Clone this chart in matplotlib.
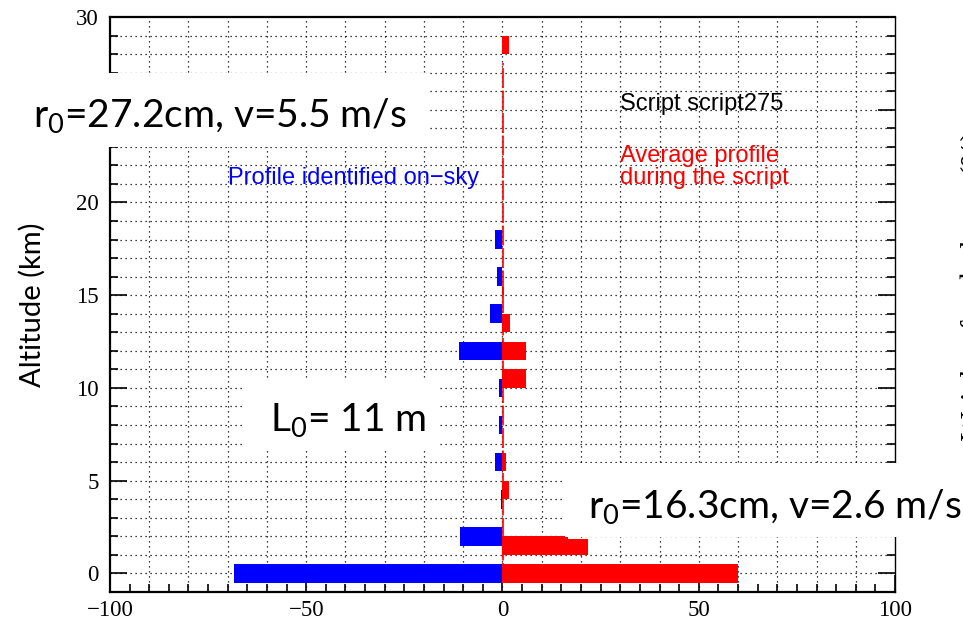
import matplotlib
matplotlib.use("Agg")
import matplotlib.pyplot as plt
from matplotlib.patches import Rectangle
from matplotlib.ticker import MultipleLocator

plt.rcParams['mathtext.fontset'] = 'custom'
plt.rcParams['mathtext.rm'] = 'Lato'

# profile identified on-sky (negative side), one bin per 2 km
blue_alt = [0, 2, 4, 6, 8, 10, 12, 14, 16, 18]
blue_val = [-68.5, -10.7, -0.4, -2.0, -0.8, -1.0, -11.0, -3.3, -1.5, -1.8]

# average profile during the script (positive side), layer extents in km
red_lo = [-0.5, 1.0, 1.0, 4.0, 5.5, 10.0, 11.5, 13.0, 15.0, 28.0]
red_hi = [0.5, 2.0, 1.83, 5.0, 6.5, 11.0, 12.5, 14.0, 15.45, 29.0]
red_val = [60.0, 16.6, 21.7, 1.6, 1.0, 6.0, 6.0, 2.0, 0.4, 1.6]

# weak residual layers of the average profile
trace_alt = [-0.5, 27.5]
trace_val = [0.15, 0.15]

xticks = [-100, -50, 0, 50, 100]
yticks = [0, 5, 10, 15, 20, 25, 30]

fig = plt.figure(figsize=(9.63, 6.24), dpi=100)
ax = fig.add_axes([0.1142, 0.0513, 0.8152, 0.9215])

ax.barh(blue_alt, blue_val, height=1.0, color='#0000ff', zorder=3)
ax.barh(red_lo, red_val, height=[h - l for l, h in zip(red_lo, red_hi)],
        align='edge', color='#ff0000', zorder=3)
ax.plot(trace_val, trace_alt, color='#ff0000', lw=1.2,
        dashes=(12, 1.5), zorder=3)

ax.set_xlim(-100, 100)
ax.set_ylim(-1, 30)
ax.set_xticks(xticks)
ax.set_yticks(yticks)
ax.xaxis.set_minor_locator(MultipleLocator(5))
ax.yaxis.set_minor_locator(MultipleLocator(1))
ax.tick_params(which='both', direction='in', right=True, width=1.2,
               labelsize=16.5, labelfontfamily='Liberation Serif')
ax.tick_params(which='major', length=12)
ax.tick_params(which='minor', length=6)
ax.tick_params(axis='y', pad=8)
ax.tick_params(axis='x', pad=6)

# dotted grid every 10 in x and every km in altitude
for xv in range(-90, 100, 10):
    ax.axvline(xv, color='black', lw=0.9, linestyle=(0, (1, 3)), zorder=1)
for yv in range(0, 30):
    ax.axhline(yv, color='black', lw=0.9, linestyle=(0, (1, 3)), zorder=1)
for s in ax.spines.values():
    s.set_linewidth(1.6)
ax.spines['right'].set_linewidth(1.0)

ax.set_ylabel('Altitude (km)', fontsize=21, family='Lato', labelpad=22)

ax.text(30, 25, 'Script script275', fontsize=17, family='Liberation Sans',
        color='black', va='baseline')
ax.text(30, 22.2, 'Average profile', fontsize=17, family='Liberation Sans',
        color='#ff0000', va='baseline')
ax.text(30, 21.0, 'during the script', fontsize=17, family='Liberation Sans',
        color='#ff0000', va='baseline')
ax.text(-70, 21.0, 'Profile identified on\u2212sky', fontsize=17,
        family='Liberation Sans', color='#0000ff', va='baseline')

# white boxes with the seeing / outer scale values
W, H = 963.0, 624.0
boxes = [
    (0, 73, 428, 147, 33, 128, r'r$_\mathregular{0}$=27.2cm, v=5.5 m/s'),
    (245, 379, 440, 450, 270, 432, r'L$_\mathregular{0}$= 11 m'),
    (565, 463, 963, 537, 588, 519, r'r$_\mathregular{0}$=16.3cm, v=2.6 m/s'),
]
for x0, y0, x1, y1, tx, ty, label in boxes:
    fig.patches.append(Rectangle((x0 / W, 1 - y1 / H), (x1 - x0) / W,
                                 (y1 - y0) / H, transform=fig.transFigure,
                                 facecolor='white', edgecolor='none',
                                 zorder=10))
    fig.text(tx / W, 1 - ty / H, label, fontsize=28, family='Lato',
             va='baseline', ha='left', zorder=11)

# clipped axis title of the neighbouring panel
fig.text(960 / W, 1 - 440 / H, 'Weight of turbulence (%)', rotation=90,
         fontsize=22, family='Liberation Serif', ha='left', va='bottom')

fig.savefig('out.png', dpi=100)
